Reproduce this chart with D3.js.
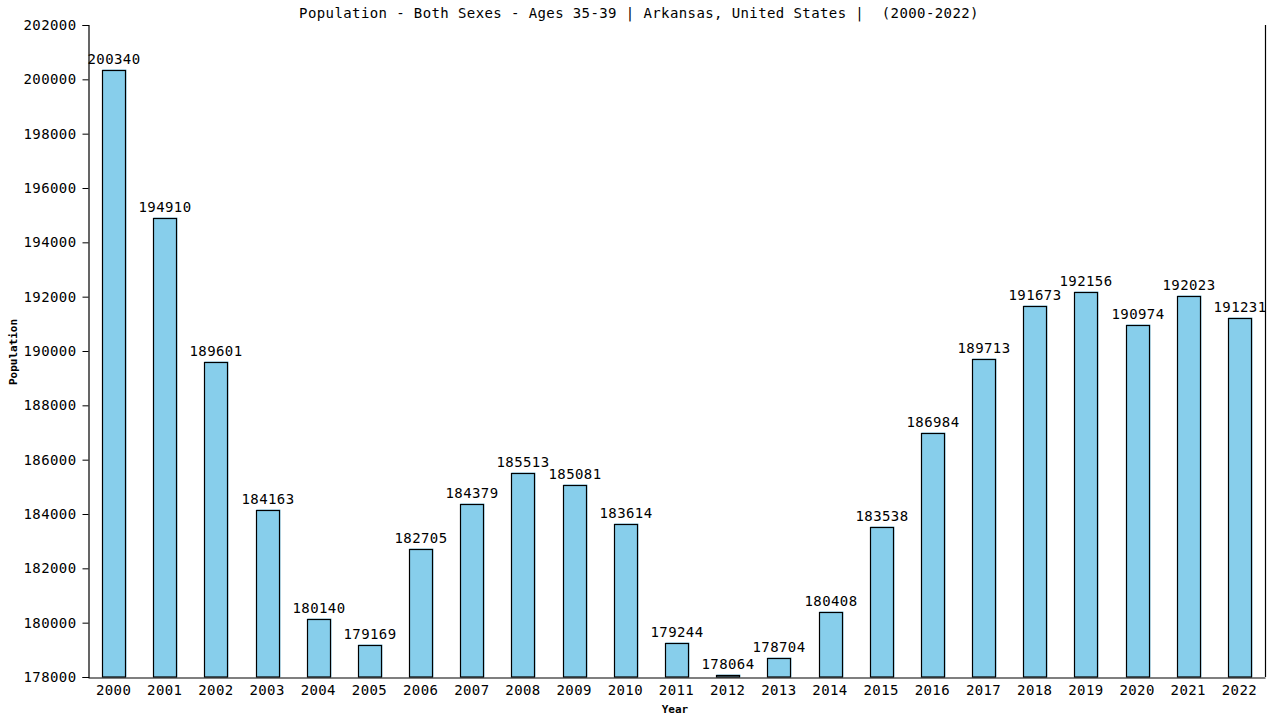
<!DOCTYPE html>
<html>
<head>
<meta charset="utf-8">
<script src="https://cdn.jsdelivr.net/npm/d3@7"></script>
<style>
body { margin:0; background:#fff; }
text { font-family: "DejaVu Sans Mono", monospace; white-space: pre; }
</style>
</head>
<body>
<svg id="chart" width="1280" height="720"></svg>
<script>
const years = ["2000","2001","2002","2003","2004","2005","2006","2007","2008","2009","2010","2011","2012","2013","2014","2015","2016","2017","2018","2019","2020","2021","2022"];
const population = [200340,194910,189601,184163,180140,179169,182705,184379,185513,185081,183614,179244,178064,178704,180408,183538,186984,189713,191673,192156,190974,192023,191231];
const yTicks = [178000,180000,182000,184000,186000,188000,190000,192000,194000,196000,198000,200000,202000];
const title = "Population - Both Sexes - Ages 35-39 | Arkansas, United States |  (2000-2022)";

const FS = 14, LS = 0.4;
const svg = d3.select("#chart");
const mLeft = 88, mRight = 1265, mTop = 25, mBottom = 677;

const x = d3.scaleBand().domain(years).range([mLeft, mRight]).paddingInner(0.55).paddingOuter(0.275);
const y = d3.scaleLinear().domain([178000, 202000]).range([mBottom, mTop]);

// bars
const g = svg.append("g");
years.forEach((yr, i) => {
  const v = population[i];
  const bx = Math.round(x(yr)) + 0.5, bw = Math.round(x.bandwidth());
  const by = Math.round(y(v)) + 0.5;
  g.append("rect").attr("x", bx).attr("y", by - 1).attr("width", bw + 1).attr("height", mBottom - by + 1)
    .attr("fill", "#87CEEB");
  g.append("rect").attr("x", bx).attr("y", by).attr("width", bw).attr("height", mBottom - by)
    .attr("fill", "none").attr("stroke", "#000").attr("stroke-width", 1.2);
  g.append("text").attr("x", bx + bw / 2).attr("y", by - 7).attr("text-anchor", "middle")
    .attr("font-size", FS).attr("letter-spacing", LS).attr("fill", "#000").text(v);
});

// y axis
const yAxis = d3.axisLeft(y).tickValues(yTicks).tickSize(6).tickPadding(6).tickFormat(d3.format("d"));
const ya = svg.append("g").attr("transform", `translate(${mLeft + 0.5},0)`).call(yAxis);
ya.select(".domain").attr("stroke", "#000").attr("stroke-width", 1.2);
ya.selectAll(".tick line").attr("stroke", "#000");
ya.selectAll(".tick text").attr("font-size", FS).attr("letter-spacing", LS).attr("fill", "#000")
  .attr("font-family", "DejaVu Sans Mono, monospace");

// x axis
const xAxis = d3.axisBottom(x).tickSize(0).tickPadding(8);
const xa = svg.append("g").attr("transform", `translate(0,${mBottom + 0.5})`).call(xAxis);
xa.select(".domain").attr("stroke", "#000").attr("stroke-width", 1.2);
xa.selectAll(".tick text").attr("font-size", FS).attr("letter-spacing", LS).attr("fill", "#000")
  .attr("font-family", "DejaVu Sans Mono, monospace");

// right border
svg.append("line").attr("x1", mRight + 0.5).attr("x2", mRight + 0.5).attr("y1", mTop).attr("y2", mBottom)
  .attr("stroke", "#000").attr("stroke-width", 1.2);

// title
svg.append("text").attr("x", 639).attr("y", 18).attr("text-anchor", "middle")
  .attr("font-size", FS).attr("letter-spacing", LS).attr("fill", "#000").text(title);

// axis titles
svg.append("text").attr("x", 675).attr("y", 713).attr("text-anchor", "middle")
  .attr("font-size", 11).attr("font-weight", "bold").attr("fill", "#000").text("Year");
svg.append("text").attr("transform", "translate(17,352) rotate(-90)").attr("text-anchor", "middle")
  .attr("font-size", 11).attr("font-weight", "bold").attr("fill", "#000").text("Population");
</script>
</body>
</html>
